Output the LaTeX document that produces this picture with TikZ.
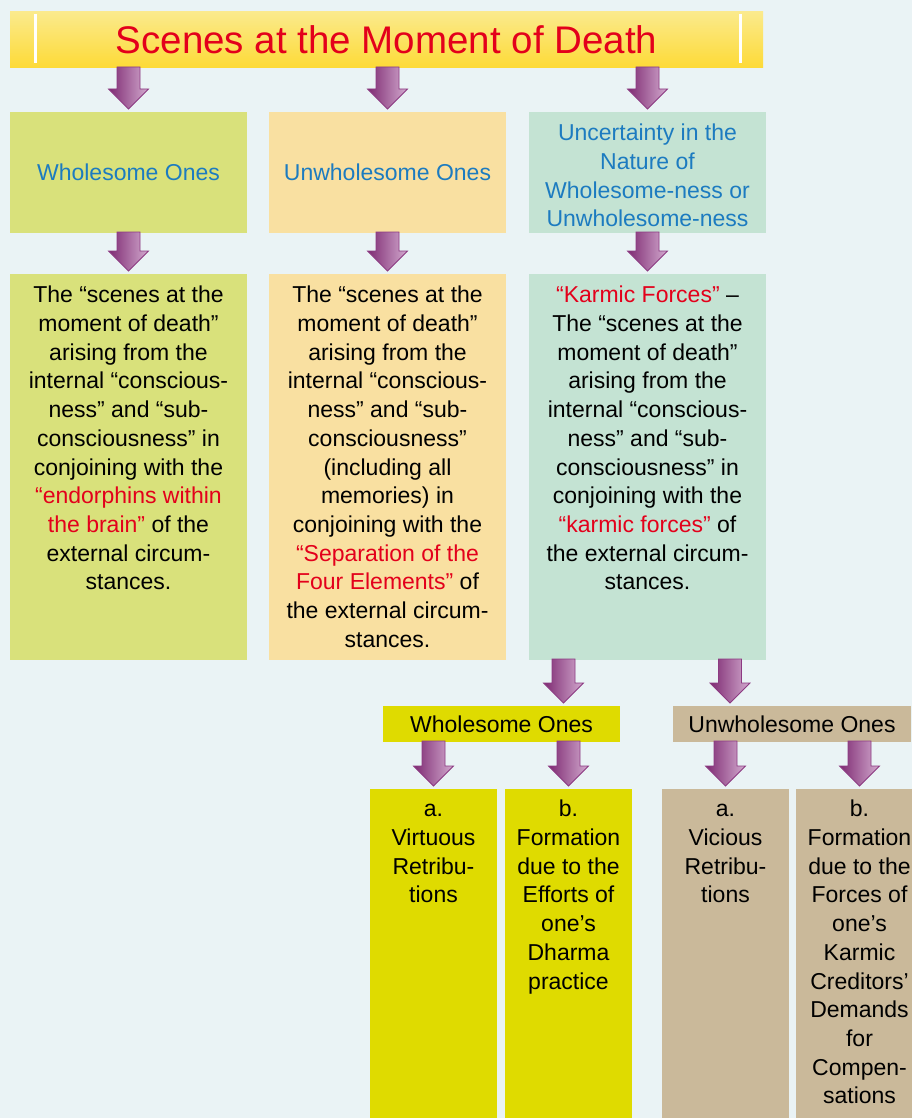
\documentclass[tikz,border=0pt]{standalone}
\usepackage{fontspec}
\setmainfont{Liberation Sans}
\usetikzlibrary{calc}
\definecolor{bgc}{HTML}{EAF3F5}
\definecolor{greenbox}{HTML}{D9E17B}
\definecolor{orangebox}{HTML}{F9E0A1}
\definecolor{tealbox}{HTML}{C4E3D3}
\definecolor{yellowbox}{HTML}{DFDB00}
\definecolor{tanbox}{HTML}{CAB99A}
\definecolor{bluetxt}{HTML}{1C7BC0}
\definecolor{redtxt}{HTML}{E3001B}
\definecolor{arrdark}{HTML}{7E2A72}
\definecolor{arrlight}{HTML}{D3ABCF}
\definecolor{arredge}{HTML}{8C3A82}
\definecolor{titletop}{HTML}{FBEA8C}
\definecolor{titlemid}{HTML}{F5C44C}
\definecolor{titlebot}{HTML}{FDDA36}
\newcommand\redt[1]{\textcolor{redtxt}{#1}}
\newcommand\blockarrow[2]{%
  \path[blockarrow] let \p1=#1, \p2=#2 in
   (\x2-11.5pt,\y1+1pt) -- (\x2-11.5pt,\y2+23pt) -- (\x2-20pt,\y2+23pt) -- (\x2,\y2+3pt)
   -- (\x2+20pt,\y2+23pt) -- (\x2+11.5pt,\y2+23pt) -- (\x2+11.5pt,\y1+1pt) -- cycle;}
\tikzset{
  box/.style={anchor=north west, inner sep=0pt, outer sep=0pt, align=center},
  txt/.style={font=\fontsize{23}{28.7}\selectfont},
  bodytxt/.style={txt, anchor=north, inner sep=0pt, align=center},
  blockarrow/.style={left color=arrdark, right color=arrlight, draw=arredge, line width=0.8pt},
}
\begin{document}
\begin{tikzpicture}[x=1pt,y=-1pt]
\useasboundingbox[fill=bgc] (0,0) rectangle (912,1118);
\clip (0,0) rectangle (912,1118);
% title
\node[box, minimum width=753pt, minimum height=56pt, top color=titletop, middle color=titlemid, bottom color=titlebot,
      font=\fontsize{38.5}{40}\selectfont, text=redtxt] (title) at (10,12) {Scenes at the Moment of Death};
\draw[white, line width=3pt] ($(title.north west)+(25,2)$) -- ($(title.south west)+(25,-5)$);
\draw[white, line width=3pt] ($(title.north east)+(-23,2)$) -- ($(title.south east)+(-23,-5)$);
% row 1
\node[box, txt, fill=greenbox, minimum width=237pt, minimum height=121pt, text=bluetxt] (r1a) at (10,112) {Wholesome Ones};
\node[box, txt, fill=orangebox, minimum width=237pt, minimum height=121pt, text=bluetxt] (r1b) at (269,112) {Unwholesome Ones};
\node[box, txt, fill=tealbox, minimum width=237pt, minimum height=121pt, text=bluetxt] (r1c) at (529,112) {};
\node[bodytxt, text=bluetxt, anchor=center] (r1ct) at ($(r1c.center)+(0,3)$) {Uncertainty in the\\Nature of\\Wholesome-ness or\\Unwholesome-ness};
% row 2
\node[box, fill=greenbox, minimum width=237pt, minimum height=386pt] (r2a) at (10,274) {};
\node[box, fill=orangebox, minimum width=237pt, minimum height=386pt] (r2b) at (269,274) {};
\node[box, fill=tealbox, minimum width=237pt, minimum height=386pt] (r2c) at (529,274) {};
\node[bodytxt] (r2at) at ($(r2a.north)+(0,12)$) {The “scenes at the\\moment of death”\\arising from the\\internal “conscious-\\ness” and “sub-\\consciousness” in\\conjoining with the\\\redt{“endorphins within}\\\redt{the brain”} of the\\external circum-\\stances.};
\node[bodytxt] (r2bt) at ($(r2b.north)+(0,12)$) {The “scenes at the\\moment of death”\\arising from the\\internal “conscious-\\ness” and “sub-\\consciousness”\\(including all\\memories) in\\conjoining with the\\\redt{“Separation of the}\\\redt{Four Elements”} of\\the external circum-\\stances.};
\node[bodytxt] (r2ct) at ($(r2c.north)+(0,12)$) {\redt{“Karmic Forces”} –\\The “scenes at the\\moment of death”\\arising from the\\internal “conscious-\\ness” and “sub-\\consciousness” in\\conjoining with the\\\redt{“karmic forces”} of\\the external circum-\\stances.};
% row 3
\node[box, txt, fill=yellowbox, minimum width=237pt, minimum height=36pt] (w) at (383,706) {Wholesome Ones};
\node[box, txt, fill=tanbox, minimum width=238pt, minimum height=36pt] (u) at (673,706) {Unwholesome Ones};
% row 4
\node[box, fill=yellowbox, minimum width=127pt, minimum height=340pt] (ya) at (370,789) {};
\node[box, fill=yellowbox, minimum width=127pt, minimum height=340pt] (yb) at (505,789) {};
\node[box, fill=tanbox, minimum width=127pt, minimum height=340pt] (ta) at (662,789) {};
\node[box, fill=tanbox, minimum width=127pt, minimum height=340pt] (tb) at (796,789) {};
\node[bodytxt] (yat) at ($(ya.north)+(0,11)$) {\vphantom{b}a.\\Virtuous\\Retribu-\\tions};
\node[bodytxt] (ybt) at ($(yb.north)+(0,11)$) {b.\\Formation\\due to the\\Efforts of\\one’s\\Dharma\\practice};
\node[bodytxt] (tat) at ($(ta.north)+(0,11)$) {\vphantom{b}a.\\Vicious\\Retribu-\\tions};
\node[bodytxt] (tbt) at ($(tb.north)+(0,11)$) {b.\\Formation\\due to the\\Forces of\\one’s\\Karmic\\Creditors’\\Demands\\for\\Compen-\\sations};
% arrows
\blockarrow{(title.south)}{(r1a.north)}
\blockarrow{(title.south)}{(r1b.north)}
\blockarrow{(title.south)}{(r1c.north)}
\blockarrow{(r1a.south)}{(r2a.north)}
\blockarrow{(r1b.south)}{(r2b.north)}
\blockarrow{(r1c.south)}{(r2c.north)}
\blockarrow{(r2c.south)}{($(w.north)+(62,0)$)}
\blockarrow{(r2c.south)}{($(u.north)+(-62,0)$)}
\blockarrow{(w.south)}{(ya.north)}
\blockarrow{(w.south)}{(yb.north)}
\blockarrow{(u.south)}{(ta.north)}
\blockarrow{(u.south)}{(tb.north)}
\end{tikzpicture}
\end{document}
